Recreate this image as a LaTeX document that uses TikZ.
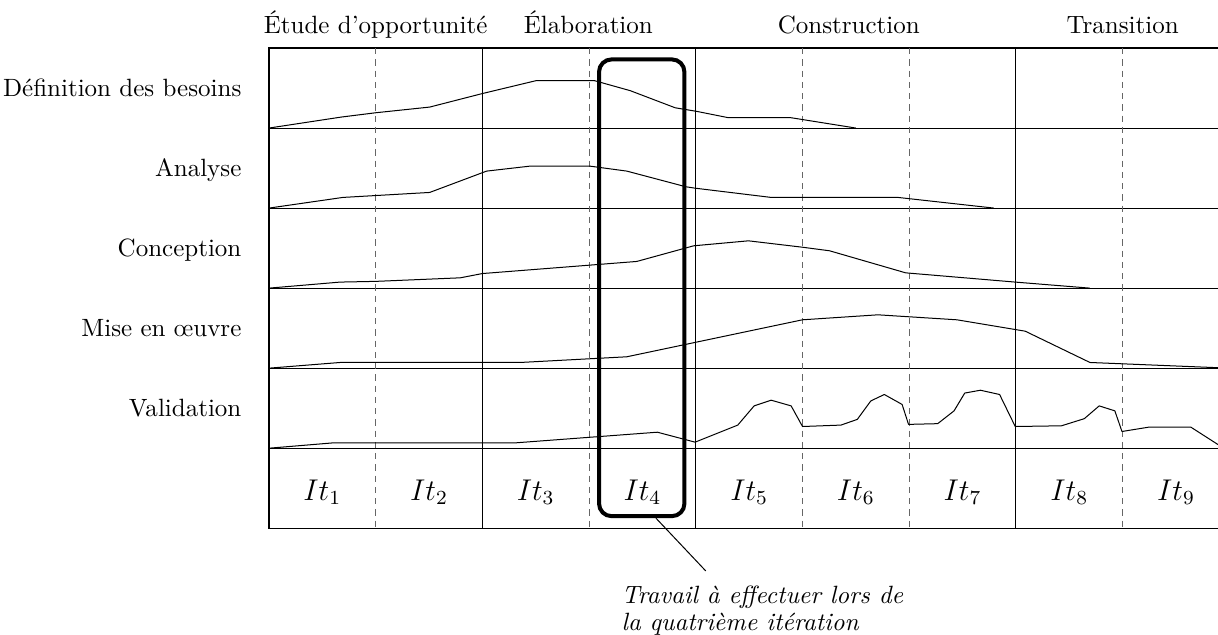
\documentclass[tikz,border=0pt]{standalone}
\usepackage{amsmath}
\usepackage{xcolor}
\definecolor{dashgray}{gray}{0.4}

\begin{document}
\begin{tikzpicture}[
  phase/.style={anchor=base},
  activity/.style={anchor=base east, inner sep=0pt},
  iteration/.style={anchor=base, font=\large},
  sep/.style={dashgray, dash pattern=on 2.5pt off 2pt},
  curve/.style={line join=round},
  focus/.style={draw, ultra thick, rounded corners=5pt, minimum width=1.2cm, minimum height=6.42cm, inner sep=0pt}]
\useasboundingbox (-3.78,0.675) rectangle (13.34,-8.25);
\clip (-3.78,0.675) rectangle (13.34,-8.25);

% grid of activities and iterations
\draw[semithick] (13.5,0) -- (0,0) -- (0,-6.75) -- (13.5,-6.75);
\foreach \r in {1,...,5} \draw (0,-1.125*\r) -- (13.5,-1.125*\r);
\foreach \x in {3,6,10.5} \draw (\x,0) -- (\x,-6.75);
\foreach \x in {1.5,4.5,7.5,9,12} \draw[sep] (\x,0) -- (\x,-6.75);

% phases
\node[phase] (etude) at (1.5,0.21) {Étude d'opportunité};
\node[phase] (elab) at (4.49,0.21) {Élaboration};
\node[phase] (constr) at (8.15,0.21) {Construction};
\node[phase] (trans) at (12,0.21) {Transition};

% activities
\node[activity] (def) at (-0.38,-0.685) {Définition des besoins};
\node[activity] (ana) at (-0.38,-1.81) {Analyse};
\node[activity] (conc) at (-0.38,-2.935) {Conception};
\node[activity] (mise) at (-0.38,-4.06) {Mise en œuvre};
\node[activity] (valid) at (-0.38,-5.185) {Validation};

% workload of each activity
\draw[curve] (0,-1.125) -- (1.02,-0.97) -- (1.5,-0.91) -- (2.26,-0.83) -- (3,-0.64)
  -- (3.75,-0.46) -- (4.58,-0.46) -- (5.08,-0.6) -- (5.71,-0.84) -- (6.01,-0.89)
  -- (6.46,-0.98) -- (7.34,-0.98) -- (8.25,-1.125);
\draw[curve] (0,-2.25) -- (1.04,-2.1) -- (2.26,-2.03) -- (3.06,-1.73) -- (3.67,-1.66)
  -- (4.51,-1.66) -- (5.03,-1.73) -- (5.86,-1.95) -- (5.99,-1.97) -- (7.06,-2.1)
  -- (8.84,-2.1) -- (10.19,-2.25);
\draw[curve] (0,-3.375) -- (1,-3.29) -- (1.5,-3.28) -- (2.69,-3.23) -- (3,-3.17)
  -- (5.17,-3) -- (5.97,-2.78) -- (6.74,-2.71) -- (7.5,-2.8) -- (7.88,-2.85)
  -- (8.95,-3.16) -- (10.49,-3.29) -- (11.54,-3.375);
\draw[curve] (0,-4.5) -- (1,-4.42) -- (3.53,-4.42) -- (5.03,-4.34) -- (7.5,-3.82)
  -- (8.56,-3.75) -- (9.67,-3.82) -- (10.63,-3.98) -- (11.54,-4.42) -- (13.5,-4.5);
\draw[curve] (0,-5.625) -- (0.9,-5.55) -- (3.46,-5.55) -- (5.46,-5.4) -- (5.99,-5.54)
  -- (6.59,-5.3) -- (6.82,-5.03) -- (7.06,-4.95) -- (7.34,-5.03) -- (7.5,-5.32)
  -- (8.04,-5.3) -- (8.27,-5.22) -- (8.46,-4.96) -- (8.65,-4.87) -- (8.9,-5.01)
  -- (8.99,-5.29) -- (9.4,-5.28) -- (9.63,-5.1) -- (9.78,-4.85) -- (10,-4.81)
  -- (10.27,-4.87) -- (10.49,-5.32) -- (11.14,-5.31) -- (11.46,-5.21) -- (11.67,-5.03)
  -- (11.89,-5.1) -- (11.99,-5.39) -- (12.36,-5.33) -- (12.96,-5.33) -- (13.42,-5.625);

% iterations
\foreach \i in {1,...,9}
  \node[iteration] (it\i) at (1.5*\i-0.75,-6.355) {$It_{\i}$};

% fourth iteration and its note
\node[focus] (it4box) at (5.24,-3.37) {};
\coordinate (tip) at (6.14,-7.35);
\node[anchor=north west, inner sep=0pt, align=left, font=\itshape] (note) at (4.95,-7.55)
  {Travail à effectuer lors de\\[-1pt]la quatrième itération};
\draw ([xshift=0.2cm]it4box.south) -- (tip);
\end{tikzpicture}
\end{document}
